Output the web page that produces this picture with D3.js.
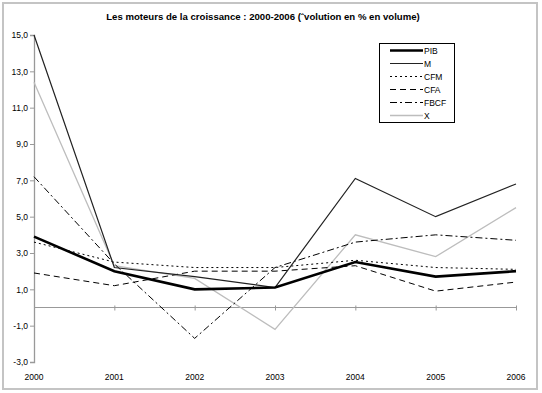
<!DOCTYPE html>
<html>
<head>
<meta charset="utf-8">
<script src="https://cdn.jsdelivr.net/npm/d3@7"></script>
<style>
    body { margin: 0; background: #fff; }
    svg text { font-family: "Liberation Sans", Arial, sans-serif; }
</style>
</head>
<body>
<div id="chart"></div>
<script>
var years = [2000, 2001, 2002, 2003, 2004, 2005, 2006];
var yTicks = [-3, -1, 1, 3, 5, 7, 9, 11, 13, 15];

var pib  = [3.9, 2.0, 1.0, 1.1, 2.5, 1.7, 2.0];
var m    = [15.0, 2.2, 1.7, 1.1, 7.1, 5.0, 6.8];
var cfm  = [3.6, 2.5, 2.2, 2.2, 2.6, 2.2, 2.1];
var cfa  = [1.9, 1.2, 2.0, 2.0, 2.3, 0.9, 1.4];
var fbcf = [7.2, 2.4, -1.7, 2.2, 3.6, 4.0, 3.7];
var x_   = [12.4, 2.3, 1.6, -1.2, 4.0, 2.8, 5.5];

var series = [
    {name: "PIB",  values: pib,  color: "#000", width: 2.6, dash: null},
    {name: "M",    values: m,    color: "#222", width: 1.2, dash: null},
    {name: "CFM",  values: cfm,  color: "#000", width: 1,   dash: "2,3"},
    {name: "CFA",  values: cfa,  color: "#000", width: 1,   dash: "6,4"},
    {name: "FBCF", values: fbcf, color: "#000", width: 1,   dash: "7,3,2,3"},
    {name: "X",    values: x_,   color: "#bdbdbd", width: 1.3, dash: null}
];

var width = 542, height = 393;
var svg = d3.select("#chart").append("svg")
    .attr("width", width)
    .attr("height", height);

svg.append("rect")
    .attr("x", 3).attr("y", 3)
    .attr("width", 534).attr("height", 386)
    .attr("fill", "none")
    .attr("stroke", "#c4c4c4")
    .attr("stroke-width", 2);

svg.append("text")
    .attr("x", 263).attr("y", 20)
    .attr("text-anchor", "middle")
    .attr("font-size", 9.6)
    .attr("font-weight", "bold")
    .text("Les moteurs de la croissance : 2000-2006 (\u02C6volution en % en volume)");

var x = d3.scalePoint().domain(years).range([34, 516]);
var y = d3.scaleLinear().domain([-3, 15]).range([362, 35]);
var fmt = v => d3.format(".1f")(v).replace(".", ",").replace("\u2212", "-");

// vertical axis
var yAxis = svg.append("g")
    .attr("transform", "translate(34,0)")
    .call(d3.axisLeft(y).tickValues(yTicks).tickSize(4).tickFormat(fmt));
yAxis.select(".domain").attr("stroke", "#999").attr("stroke-width", 1.3);
yAxis.selectAll(".tick line").attr("stroke", "#999");
yAxis.selectAll(".tick text")
    .attr("font-size", 8.5)
    .attr("fill", "#000")
    .attr("x", -6)
    .attr("font-family", "Liberation Sans, Arial, sans-serif");

// zero line with category ticks
var xAxis = svg.append("g")
    .attr("transform", "translate(0," + y(0) + ")")
    .call(d3.axisBottom(x).tickSize(3).tickFormat(""));
xAxis.select(".domain").attr("stroke", "#999").attr("d", "M34,0H516");
xAxis.selectAll(".tick line").attr("stroke", "#999").attr("y1", -2);

svg.append("g")
    .selectAll("text")
    .data(years)
    .enter().append("text")
    .attr("x", d => x(d))
    .attr("y", 380)
    .attr("text-anchor", "middle")
    .attr("font-size", 8.5)
    .text(d => d);

var line = d3.line()
    .x((d, i) => x(years[i]))
    .y(d => y(d));

svg.append("g")
    .selectAll("path")
    .data(series.slice().reverse())
    .enter().append("path")
    .attr("d", d => line(d.values))
    .attr("fill", "none")
    .attr("stroke", d => d.color)
    .attr("stroke-width", d => d.width)
    .attr("stroke-dasharray", d => d.dash)
    .attr("stroke-linejoin", "miter");

// legend
var legend = svg.append("g");
legend.append("rect")
    .attr("x", 379.5).attr("y", 43.5)
    .attr("width", 75).attr("height", 79)
    .attr("fill", "#fff")
    .attr("stroke", "#000")
    .attr("stroke-width", 1);
var items = legend.selectAll("g.item")
    .data(series)
    .enter().append("g")
    .attr("class", "item")
    .attr("transform", (d, i) => "translate(0," + (50.5 + i * 13) + ")");
items.append("line")
    .attr("x1", 390).attr("x2", 423)
    .attr("stroke", d => d.color)
    .attr("stroke-width", d => d.width)
    .attr("stroke-dasharray", d => d.dash);
items.append("text")
    .attr("x", 424)
    .attr("y", 3)
    .attr("font-size", 8.5)
    .text(d => d.name);
</script>
</body>
</html>
